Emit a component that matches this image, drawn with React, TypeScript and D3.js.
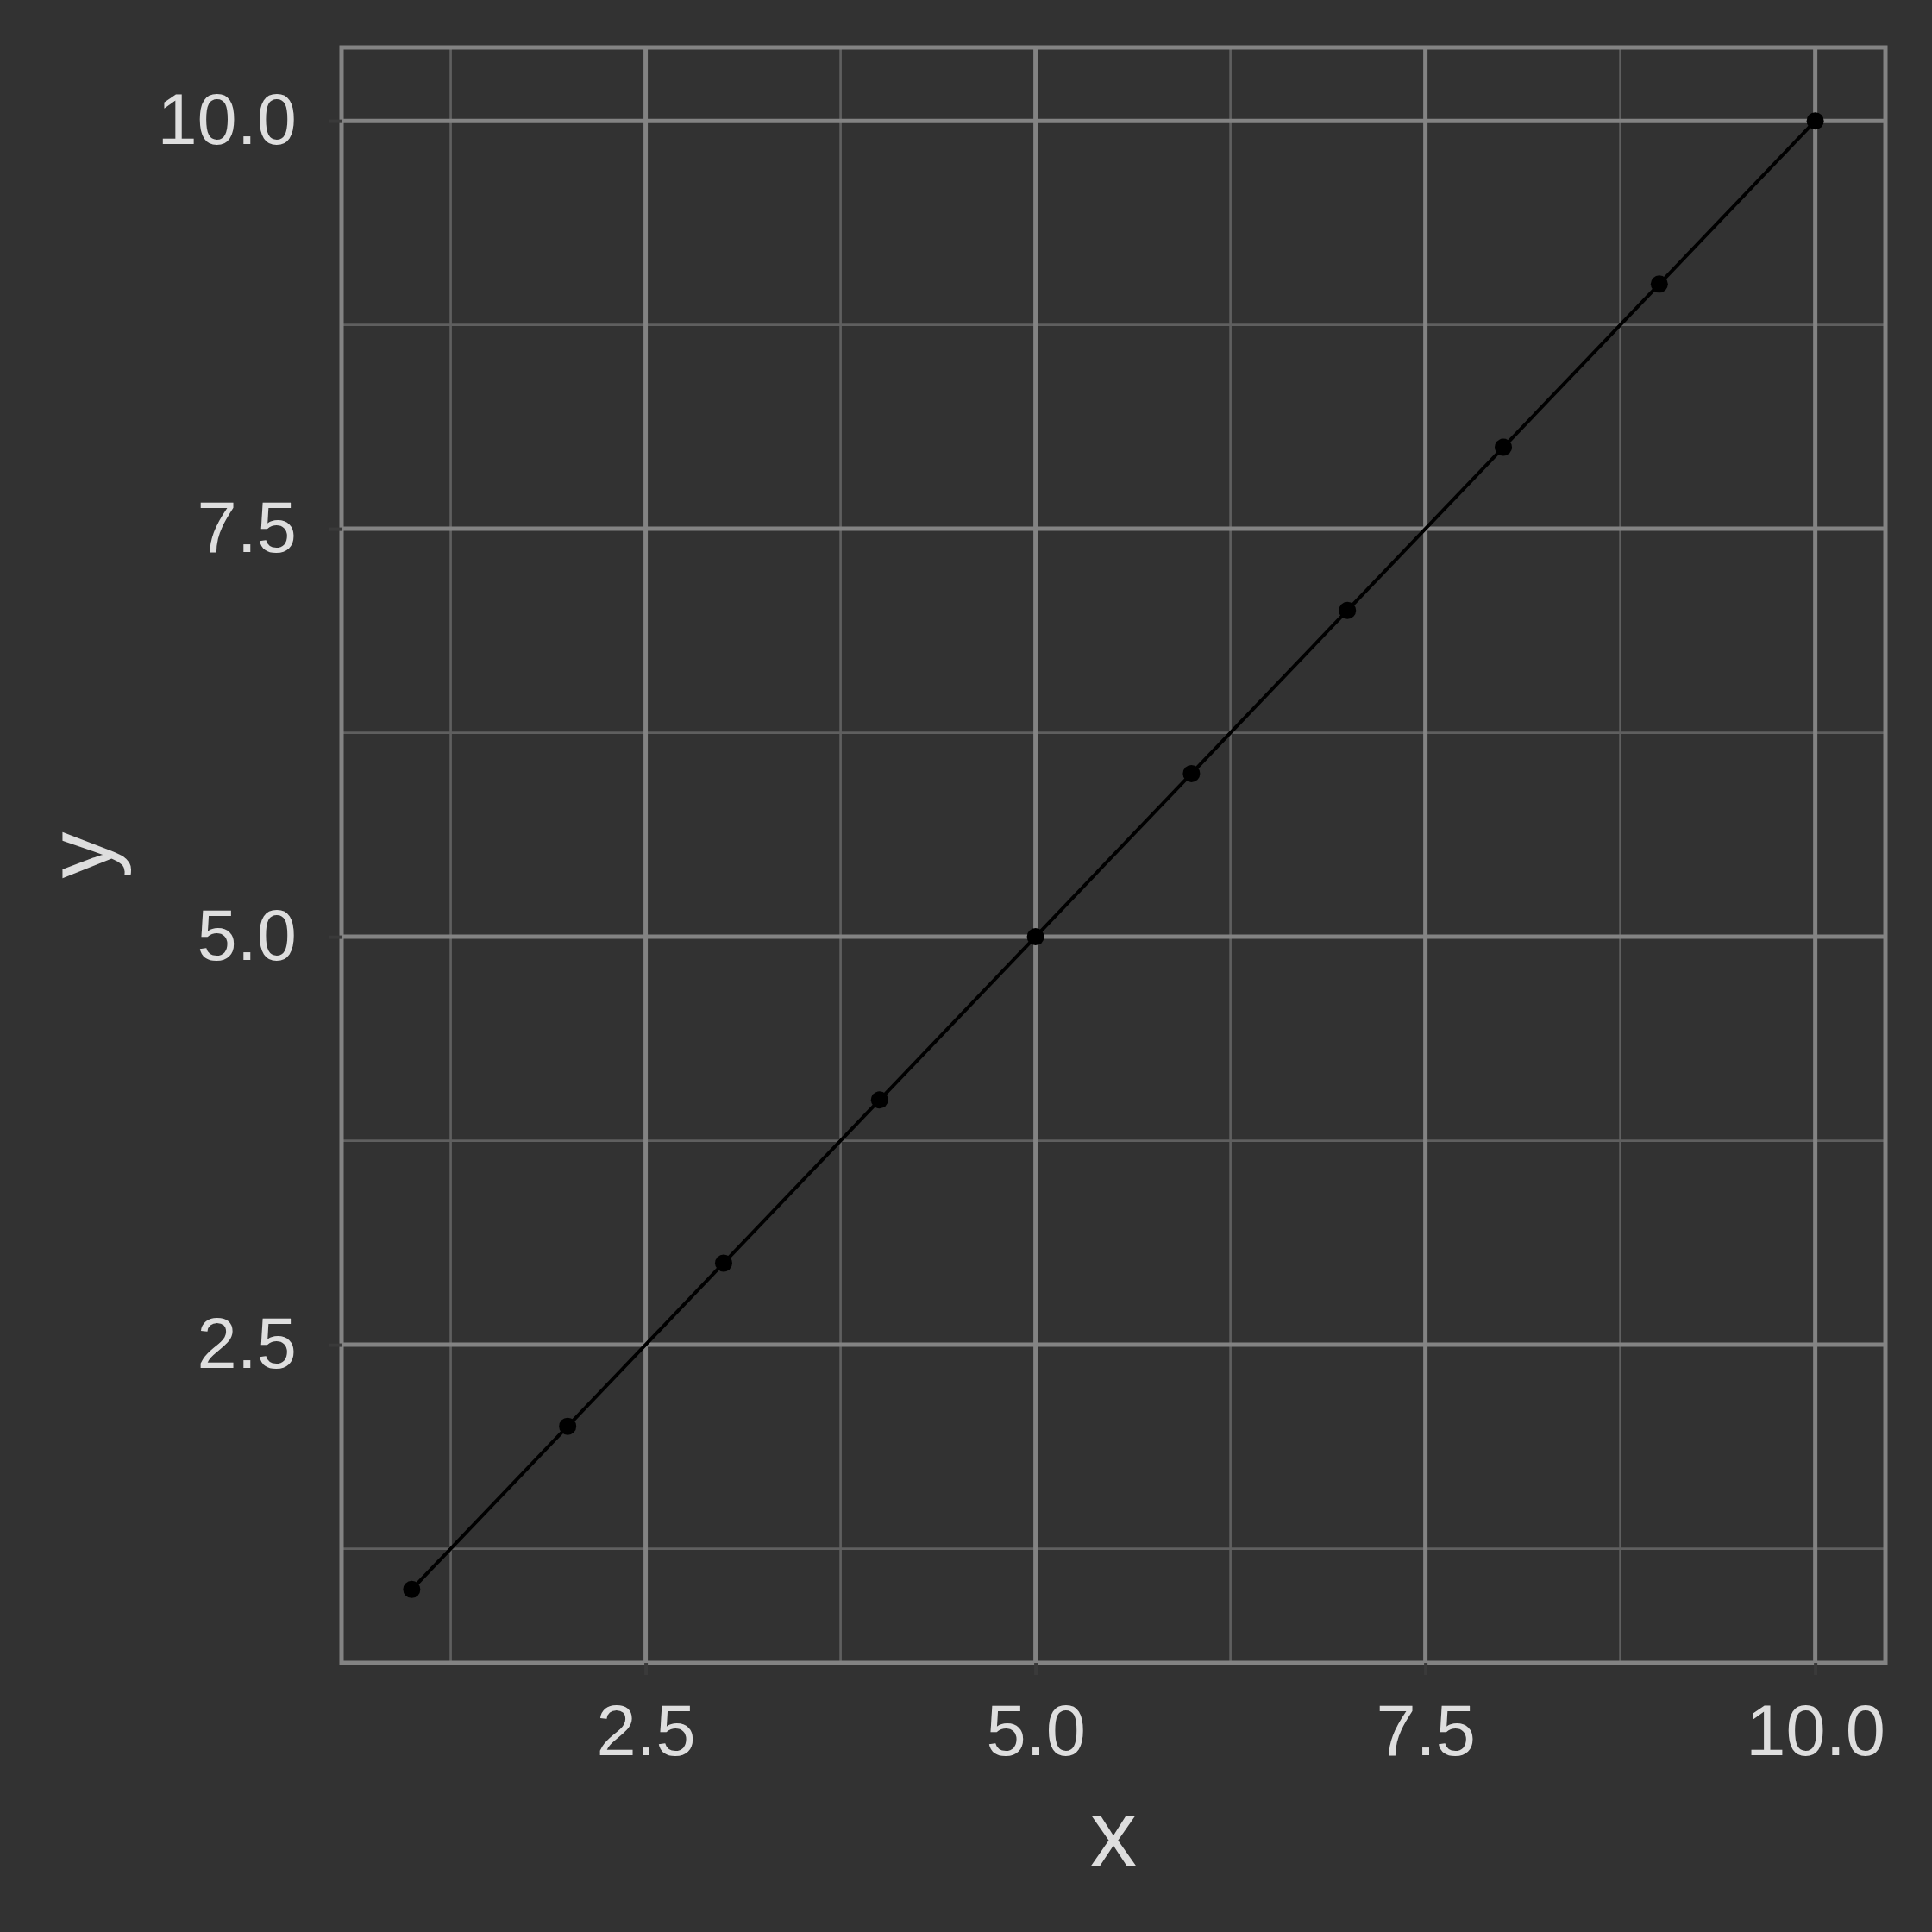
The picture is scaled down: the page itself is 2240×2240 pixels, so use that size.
import React, { useEffect, useRef } from 'react';
import * as d3 from 'd3';

const xValues = [1, 2, 3, 4, 5, 6, 7, 8, 9, 10];
const yValues = [1, 2, 3, 4, 5, 6, 7, 8, 9, 10];
const majorTicks = [2.5, 5.0, 7.5, 10.0];
const minorTicks = [1.25, 3.75, 6.25, 8.75];

const App = () => {
  const svgRef = useRef<SVGSVGElement>(null);

  useEffect(() => {
    const W = 2240;
    const H = 2240;
    const margin = { top: 55, right: 54, bottom: 312, left: 396 };
    const width = W - margin.left - margin.right;
    const height = H - margin.top - margin.bottom;

    const data = xValues.map((x, i) => ({ x, y: yValues[i] }));

    // ggplot style 5% expansion
    const xExt = d3.extent(xValues) as [number, number];
    const yExt = d3.extent(yValues) as [number, number];
    const xPad = (xExt[1] - xExt[0]) * 0.05;
    const yPad = (yExt[1] - yExt[0]) * 0.05;

    const x = d3.scaleLinear().domain([xExt[0] - xPad, xExt[1] + xPad]).range([0, width]);
    const y = d3.scaleLinear().domain([yExt[0] - yPad, yExt[1] + yPad]).range([height, 0]);

    const root = d3.select(svgRef.current);
    root.selectAll('*').remove();
    root.attr('width', W).attr('height', H);

    root.append('rect').attr('width', W).attr('height', H).attr('fill', '#323232');

    const svg = root.append('g').attr('transform', `translate(${margin.left},${margin.top})`);

    // minor grid
    svg.selectAll('.minor-x').data(minorTicks).enter().append('line')
      .attr('x1', (d) => x(d)).attr('x2', (d) => x(d))
      .attr('y1', 0).attr('y2', height)
      .attr('stroke', '#5f5f5f').attr('stroke-width', 2.7);
    svg.selectAll('.minor-y').data(minorTicks).enter().append('line')
      .attr('y1', (d) => y(d)).attr('y2', (d) => y(d))
      .attr('x1', 0).attr('x2', width)
      .attr('stroke', '#5f5f5f').attr('stroke-width', 2.7);

    // major grid
    svg.selectAll('.major-x').data(majorTicks).enter().append('line')
      .attr('x1', (d) => x(d)).attr('x2', (d) => x(d))
      .attr('y1', 0).attr('y2', height)
      .attr('stroke', '#838383').attr('stroke-width', 5);
    svg.selectAll('.major-y').data(majorTicks).enter().append('line')
      .attr('y1', (d) => y(d)).attr('y2', (d) => y(d))
      .attr('x1', 0).attr('x2', width)
      .attr('stroke', '#838383').attr('stroke-width', 5);

    // line + points
    const line = d3.line<{ x: number; y: number }>().x((d) => x(d.x)).y((d) => y(d.y));
    svg.append('path').datum(data)
      .attr('d', line)
      .attr('fill', 'none')
      .attr('stroke', '#000')
      .attr('stroke-width', 4);
    svg.selectAll('.pt').data(data).enter().append('circle')
      .attr('cx', (d) => x(d.x)).attr('cy', (d) => y(d.y))
      .attr('r', 10).attr('fill', '#000');

    // panel border
    svg.append('rect')
      .attr('width', width).attr('height', height)
      .attr('fill', 'none').attr('stroke', '#838383').attr('stroke-width', 5);

    const fmt = d3.format('.1f');

    // x axis
    const xAxis = svg.append('g').attr('transform', `translate(0,${height})`)
      .call(d3.axisBottom(x).tickValues(majorTicks).tickSize(14).tickPadding(34).tickFormat((d) => fmt(d as number)));
    xAxis.select('.domain').remove();
    xAxis.selectAll('line').attr('stroke', '#3a3a3a').attr('stroke-width', 4);
    xAxis.selectAll('text')
      .attr('fill', '#dedede')
      .style('font-family', '"Liberation Sans", Arial, sans-serif')
      .style('font-size', '83px');

    // y axis
    const yAxis = svg.append('g')
      .call(d3.axisLeft(y).tickValues(majorTicks).tickSize(14).tickPadding(38).tickFormat((d) => fmt(d as number)));
    yAxis.select('.domain').remove();
    yAxis.selectAll('line').attr('stroke', '#3a3a3a').attr('stroke-width', 4);
    yAxis.selectAll('text')
      .attr('fill', '#dedede')
      .style('font-family', '"Liberation Sans", Arial, sans-serif')
      .style('font-size', '83px');

    // axis titles
    root.append('text')
      .attr('x', margin.left + width / 2).attr('y', 2163)
      .attr('text-anchor', 'middle')
      .attr('fill', '#dedede')
      .style('font-family', '"Liberation Sans", Arial, sans-serif')
      .style('font-size', '108px')
      .text('x');
    root.append('text')
      .attr('transform', `translate(130,${margin.top + height / 2}) rotate(-90)`)
      .attr('text-anchor', 'middle')
      .attr('fill', '#dedede')
      .style('font-family', '"Liberation Sans", Arial, sans-serif')
      .style('font-size', '108px')
      .text('y');
  }, []);

  return (
    <svg ref={svgRef} style={{ position: 'absolute', left: 0, top: 0, display: 'block' }}></svg>
  );
};

export default App;
